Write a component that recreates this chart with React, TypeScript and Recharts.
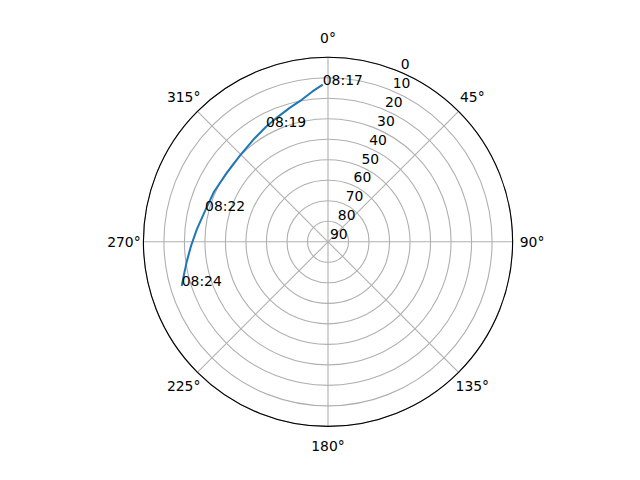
import React from 'react';
import { PolarAngleAxis, PolarGrid, PolarRadiusAxis, Radar, RadarChart } from 'recharts';

// pass track, one sample every 30 s
const TIMES = [
  '08:17:00', '08:17:30', '08:18:00', '08:18:30', '08:19:00', '08:19:30',
  '08:20:00', '08:20:30', '08:21:00', '08:21:30', '08:22:00', '08:22:30',
  '08:23:00', '08:23:30', '08:24:00', '08:24:30',
];
const AZIMUTH = [
  358.1, 354.1, 349.5, 344.2, 338.3, 331.7, 323.9, 314.4, 304.0, 293.7, 284.1, 275.5, 268.3,
  262.3, 257.4, 253.2,
];
const ELEVATION = [
  13.3, 16.3, 19.6, 22.0, 24.3, 26.3, 28.3, 29.9, 30.3, 29.3, 28.2, 25.8, 23.2, 20.6, 18.1, 15.5,
];
const LABELLED = [0, 5, 10, 15];
const AZ_TICKS = [0, 45, 90, 135, 180, 225, 270, 315];

const data = AZIMUTH.map((az, i) => ({ az, el: ELEVATION[i], time: TIMES[i] }));

const FONT = 'DejaVu Sans, sans-serif';
const FS = 13.9;

const AngleTick = (props: any) => {
  const { x, y, payload } = props;
  return (
    <text x={x} y={y} textAnchor="middle" dominantBaseline="central" fontFamily={FONT} fontSize={FS} fill="#000">
      {`${payload.value}°`}
    </text>
  );
};

const RadiusTick = (props: any) => {
  const { x, y, payload } = props;
  return (
    <text x={x + 2} y={y - 2.5} textAnchor="start" fontFamily={FONT} fontSize={FS} fill="#000">
      {payload.value}
    </text>
  );
};

// open polyline through the points recharts computed (a radar polygon would close)
const TrackLine = (props: any) => {
  const pts = (props.points || []).filter((p: any) => Number.isFinite(p.x) && Number.isFinite(p.y));
  if (!pts.length) return <g />;
  const d = pts.map((p: any, i: number) => `${i ? 'L' : 'M'}${p.x},${p.y}`).join('');
  return <path d={d} fill="none" stroke="#1f77b4" strokeWidth={2} strokeLinejoin="round" strokeLinecap="butt" />;
};

const TimeLabel = (props: any) => {
  const { cx, cy, index } = props;
  if (!LABELLED.includes(index) || !Number.isFinite(cx) || !Number.isFinite(cy)) {
    return <g key={`t-${index}`} />;
  }
  return (
    <text key={`t-${index}`} x={cx} y={cy} fontFamily={FONT} fontSize={FS} fill="#000">
      {TIMES[index].slice(0, 5)}
    </text>
  );
};

export default function App(): React.ReactElement {
  return (
    <RadarChart
      width={624}
      height={464}
      data={data}
      cx={320}
      cy={233.8}
      innerRadius={0}
      outerRadius={184.6}
      margin={{ top: 0, right: 0, bottom: 0, left: 0 }}
    >
      <PolarGrid gridType="circle" stroke="#b0b0b0" strokeWidth={1.1} />
      <PolarAngleAxis
        dataKey="az"
        type="number"
        domain={[0, 360]}
        ticks={AZ_TICKS}
        axisLineType="circle"
        axisLine={{ stroke: '#000', strokeWidth: 1.1 }}
        tickLine={false}
        tickSize={19.5}
        tick={AngleTick}
      />
      <PolarRadiusAxis
        type="number"
        domain={[0, 90]}
        tickCount={10}
        reversed
        angle={67.5}
        axisLine={false}
        tick={RadiusTick}
      />
      <Radar
        dataKey="el"
        stroke="#1f77b4"
        strokeWidth={2}
        fill="none"
        fillOpacity={0}
        shape={TrackLine}
        dot={TimeLabel}
        isAnimationActive={false}
      />
    </RadarChart>
  );
}
